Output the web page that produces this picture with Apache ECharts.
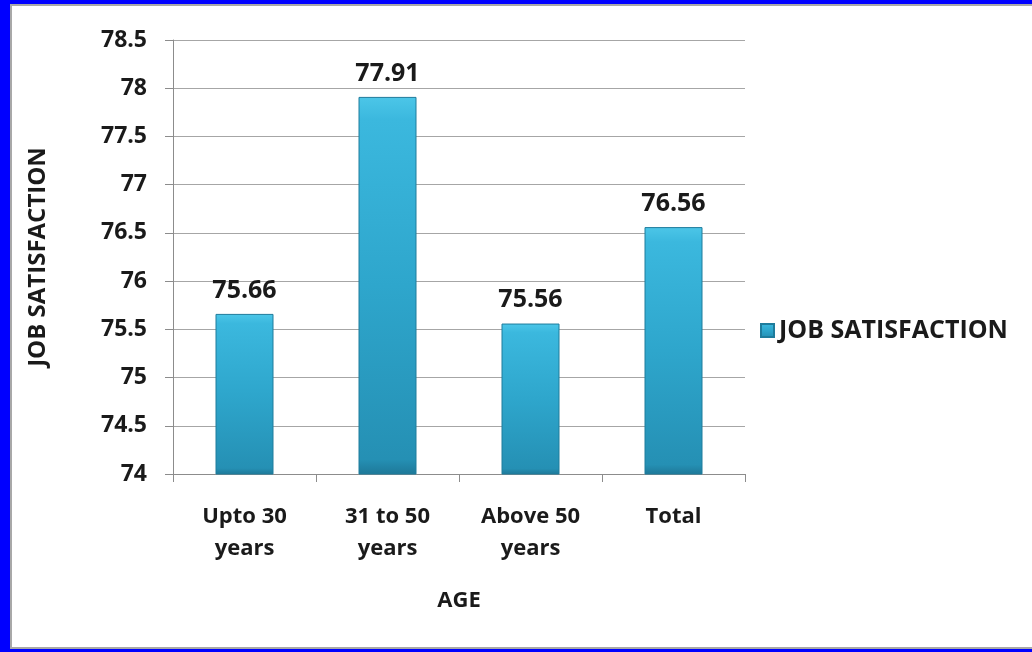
<!DOCTYPE html>
<html>
<head>
<meta charset="utf-8">
<script src="https://cdn.jsdelivr.net/npm/echarts@6/dist/echarts.min.js"></script>
<style>
  html, body { margin: 0; padding: 0; background: #ffffff; overflow: hidden; width: 1032px; height: 652px; }
  #frame {
    position: absolute; left: 0; top: 0; width: 1060px; height: 652px;
    box-sizing: border-box;
    border-left: 10px solid #0000ff; border-top: 4px solid #0000ff; border-bottom: 3px solid #0000ff; border-right: 0;
  }
  #inner {
    position: absolute; left: 0; top: 0; right: 0; bottom: 0;
    border-left: 2px solid #a8a8a8; border-top: 2px solid #a8a8a8; border-bottom: 2px solid #a8a8a8;
  }
  #chart { position: absolute; left: 0; top: 0; width: 1032px; height: 652px; }
</style>
</head>
<body>
<div id="frame"><div id="inner"></div></div>
<div id="chart"></div>
<script>
// Job satisfaction by age group
const categories = ['Upto 30\nyears', '31 to 50\nyears', 'Above 50\nyears', 'Total'];
const satisfaction = [75.66, 77.91, 75.56, 76.56];
const seriesName = 'JOB SATISFACTION';
const xAxisTitle = 'AGE';
const yAxisTitle = 'JOB SATISFACTION';

const FONT = '"Open Sans", "Noto Sans", sans-serif';
const barFill = new echarts.graphic.LinearGradient(0, 0, 0, 1, [
  { offset: 0, color: '#4cc6e8' },
  { offset: 0.06, color: '#3bb8de' },
  { offset: 0.5, color: '#2ea6cc' },
  { offset: 0.96, color: '#2590b4' },
  { offset: 1, color: '#1e7898' }
]);

const chart = echarts.init(document.getElementById('chart'), null, { renderer: 'canvas' });
chart.setOption({
  backgroundColor: 'transparent',
  animation: false,
  grid: { left: 173, top: 40, right: 287, bottom: 178, containLabel: false },
  legend: {
    data: [seriesName],
    left: 755, top: 313,
    itemWidth: 13, itemHeight: 13, itemGap: 8,
    icon: 'rect',
    textStyle: { fontFamily: FONT, fontWeight: 'bold', fontSize: 25, color: '#1a1a1a' }
  },
  xAxis: {
    type: 'category',
    data: categories,
    name: xAxisTitle,
    nameLocation: 'middle',
    nameGap: 116,
    nameTextStyle: { fontFamily: FONT, fontWeight: 'bold', fontSize: 22, color: '#1a1a1a' },
    axisLine: { lineStyle: { color: '#8c8c8c', width: 1 } },
    axisTick: { show: true, length: 8, alignWithLabel: false, lineStyle: { color: '#8c8c8c' } },
    axisLabel: {
      fontFamily: FONT, fontWeight: 'bold', fontSize: 22, color: '#1a1a1a',
      margin: 27, lineHeight: 32, interval: 0
    }
  },
  yAxis: {
    type: 'value',
    min: 74, max: 78.5, interval: 0.5,
    name: yAxisTitle,
    nameLocation: 'middle',
    nameRotate: 90,
    nameGap: 123,
    nameTextStyle: { fontFamily: FONT, fontWeight: 'bold', fontSize: 24, color: '#1a1a1a' },
    axisLine: { show: true, lineStyle: { color: '#8c8c8c', width: 1 } },
    axisTick: { show: true, length: 8, lineStyle: { color: '#8c8c8c' } },
    splitLine: { show: true, lineStyle: { color: '#a6a6a6', width: 1 } },
    axisLabel: {
      fontFamily: FONT, fontWeight: 'bold', fontSize: 23, color: '#1a1a1a', margin: 26
    }
  },
  series: [{
    name: seriesName,
    type: 'bar',
    data: satisfaction,
    barWidth: 58,
    itemStyle: { color: barFill, borderColor: '#1f7c9c', borderWidth: 1 },
    label: {
      show: true, position: 'top', distance: 11,
      fontFamily: FONT, fontWeight: 'bold', fontSize: 25, color: '#1a1a1a',
      formatter: p => p.value.toFixed(2)
    }
  }]
});
</script>
</body>
</html>
